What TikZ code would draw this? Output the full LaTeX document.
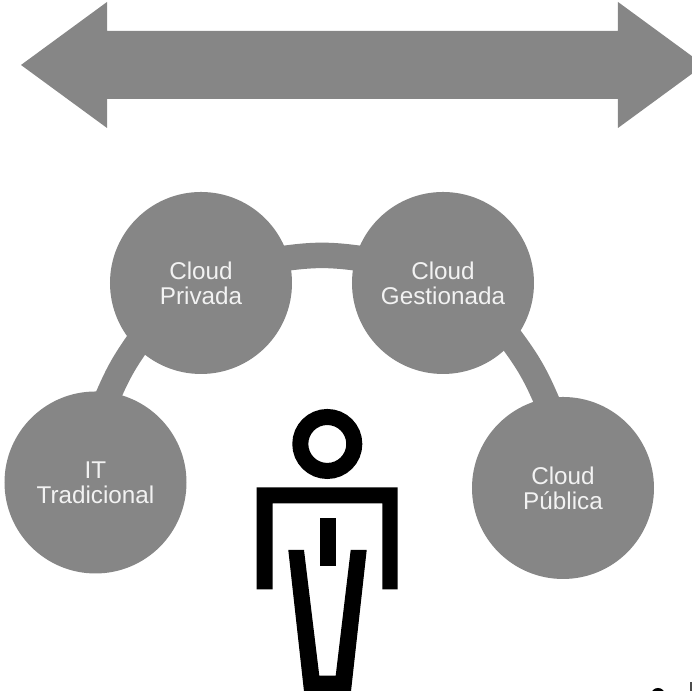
\documentclass[tikz,border=0pt]{standalone}
\usepackage{fontspec}
\setmainfont{Liberation Sans}
\usetikzlibrary{positioning}
\definecolor{cloudgray}{HTML}{868686}
\tikzstyle{cloud}=[circle,fill=cloudgray,text=white!95!black,inner sep=0pt,minimum size=1.82cm,
align=center,font=\fontsize{6.9}{7.1}\selectfont]
\tikzstyle{link}=[draw=cloudgray,line width=.255cm,shorten <=-.1cm,shorten >=-.1cm]

\begin{document}
\begin{tikzpicture}[on grid]
  \clip[use as bounding box] (0,0) rectangle (6.92,6.91);

  % double arrow on top
  \fill[cloudgray] (.21,6.26) -- (1.07,6.89) -- (1.07,6.60) -- (6.18,6.60) -- (6.18,6.89)
    -- (7.04,6.26) -- (6.18,5.63) -- (6.18,5.92) -- (1.07,5.92) -- (1.07,5.63) -- cycle;

  \node[cloud] at (2.01,4.08) (priv) {Cloud\\Privada};
  \node[cloud, right=2.42cm of priv] (gest) {Cloud\\Gestionada};
  \node[cloud] at (.955,2.085) (it) {IT\\Tradicional};
  \node[cloud] at (5.63,2.03) (pub) {Cloud\\Pública};

  \draw[link] (it.81) to[bend left=6] (priv.224);
  \draw[link] (priv.16) to[bend left=8] (gest.164);
  \draw[link] (gest.-40) to[bend left=7] (pub.101);

  % the man
  \node[circle,draw=black,line width=.16cm,inner sep=0pt,minimum size=.54cm] at (3.273,2.47) (head) {};
  \fill[black] (2.567,1.017) -- (2.567,2.037) -- (3.977,2.037) -- (3.977,1.017) -- (3.823,1.017)
    -- (3.823,1.877) -- (2.727,1.877) -- (2.727,1.017) -- cycle;
  \fill[black] (3.20,1.253) rectangle (3.36,1.733);
  \fill[black] (2.883,1.41) -- (3.04,1.41) -- (3.193,.153) -- (3.357,.153) -- (3.507,1.41)
    -- (3.667,1.41) -- (3.506,-.04) -- (3.044,-.04) -- cycle;

  % bits in the corner
  \fill[black] (6.58,-.04) circle (.07);
  \fill[black!70] (6.90,-.01) rectangle (6.92,.09);
\end{tikzpicture}
\end{document}
